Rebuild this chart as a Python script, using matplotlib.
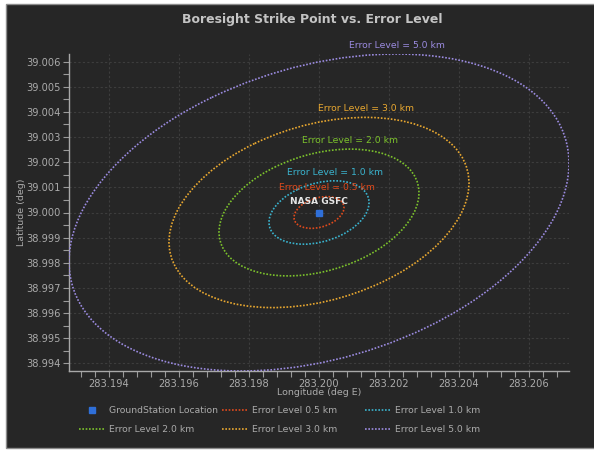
import numpy as np
import matplotlib.pyplot as plt
from matplotlib.patches import Ellipse, Rectangle
from matplotlib.lines import Line2D
from matplotlib.ticker import MultipleLocator, FormatStrFormatter

# ground station
station_name = 'NASA GSFC'
station_lon = 283.2000
station_lat = 39.0000

# error ellipses around the boresight strike point
error_levels_km = [0.5, 1.0, 2.0, 3.0, 5.0]
half_lon = [0.000714, 0.001429, 0.002857, 0.004286, 0.007143]  # deg
half_lat = [0.00063, 0.00126, 0.00252, 0.00378, 0.00630]       # deg
tilt = [0.31, 0.31, 0.31, 0.31, 0.31]                           # lon/lat correlation
level_colors = ['#e04a1c', '#3ab4cf', '#7cc22c', '#e9a830', '#9b8be0']

BG = '#262626'
TXT = '#ababab'
W, H = 594, 450

fig = plt.figure(figsize=(W / 100, H / 100), dpi=100)
fig.patch.set_facecolor('white')
fig.patches.append(Rectangle((6 / W, 2 / H), 1.0, 444 / H, transform=fig.transFigure,
                             facecolor=BG, edgecolor='#8c8c8c', lw=1.0, zorder=-10))

ax = fig.add_axes([69 / W, 79 / H, 500 / W, 317 / H])
ax.set_facecolor(BG)

dots = (0, (1, 1))
level_handles = []
for lvl, w, h, r, c in zip(error_levels_km, half_lon, half_lat, tilt, level_colors):
    cov = np.array([[w * w, r * w * h], [r * w * h, h * h]])
    vals, vecs = np.linalg.eigh(cov)
    angle = np.degrees(np.arctan2(vecs[1, 1], vecs[0, 1]))
    ell = Ellipse((station_lon, station_lat), 2 * np.sqrt(vals[1]), 2 * np.sqrt(vals[0]),
                  angle=angle, fill=False, edgecolor=c, linestyle=dots, lw=1.2, zorder=3)
    ax.add_patch(ell)
    # label sits just above the top of each ellipse
    ax.annotate(f'Error Level = {lvl:.1f} km', (station_lon + r * w, station_lat + h),
                xytext=(0, 3), textcoords='offset points', ha='center', va='bottom',
                color=c, fontsize=6.7, zorder=5)
    level_handles.append(Line2D([], [], color=c, linestyle=dots, lw=1.2,
                                label=f'Error Level {lvl:.1f} km'))

ax.plot([station_lon], [station_lat], 's', color='#2f6fd8', markersize=4.5, zorder=6)
ax.annotate(station_name, (station_lon, station_lat), xytext=(0, 5), textcoords='offset points',
            ha='center', va='bottom', color='#e6e6e6', fontsize=6.5, fontweight='bold', zorder=7)

ax.set_xlim(station_lon - max(half_lon), station_lon + max(half_lon))
ax.set_ylim(station_lat - max(half_lat), station_lat + max(half_lat))

ax.xaxis.set_major_locator(MultipleLocator(0.002))
ax.xaxis.set_minor_locator(MultipleLocator(0.0004))
ax.yaxis.set_major_locator(MultipleLocator(0.001))
ax.yaxis.set_minor_locator(MultipleLocator(0.0005))
ax.xaxis.set_major_formatter(FormatStrFormatter('%.3f'))
ax.yaxis.set_major_formatter(FormatStrFormatter('%.3f'))
ax.tick_params(which='both', direction='out', length=4, width=0.8, color='#9a9a9a',
               labelcolor=TXT, labelsize=7.1, pad=2)
ax.grid(True, which='major', color='#3d3d3d', linestyle=(0, (2, 2)), lw=0.8)
ax.set_axisbelow(True)

for side in ['top', 'right']:
    ax.spines[side].set_visible(False)
for side in ['left', 'bottom']:
    ax.spines[side].set_color('#a8a8a8')
    ax.spines[side].set_linewidth(1.0)

ax.set_xlabel('Longitude (deg E)', color=TXT, fontsize=6.8, va='center')
ax.set_ylabel('Latitude (deg)', color=TXT, fontsize=6.8, va='center')
ax.xaxis.set_label_coords(0.5, -0.069)
ax.yaxis.set_label_coords(-0.096, 0.5)

fig.text(312 / W, 1 - 20 / H, 'Boresight Strike Point vs. Error Level', ha='center', va='center',
         color='#c4c4c4', fontsize=9, fontweight='bold')

# legend laid out as an even 3-column grid
gs_handle = Line2D([], [], marker='s', linestyle='none', color='#2f6fd8', markersize=4.5,
                   label='GroundStation Location')
columns = [[gs_handle, level_handles[2]],
           [level_handles[0], level_handles[3]],
           [level_handles[1], level_handles[4]]]
col_x = [79, 222, 365]
for x, hs in zip(col_x, columns):
    fig.legend(handles=hs, loc='upper left', bbox_to_anchor=(x / W, 1 - 406 / H),
               frameon=False, borderpad=0, borderaxespad=0, fontsize=6.7, labelcolor=TXT,
               handlelength=2.7, handletextpad=0.55, labelspacing=1.1)

fig.savefig('out.png', dpi=100, facecolor=fig.get_facecolor())
